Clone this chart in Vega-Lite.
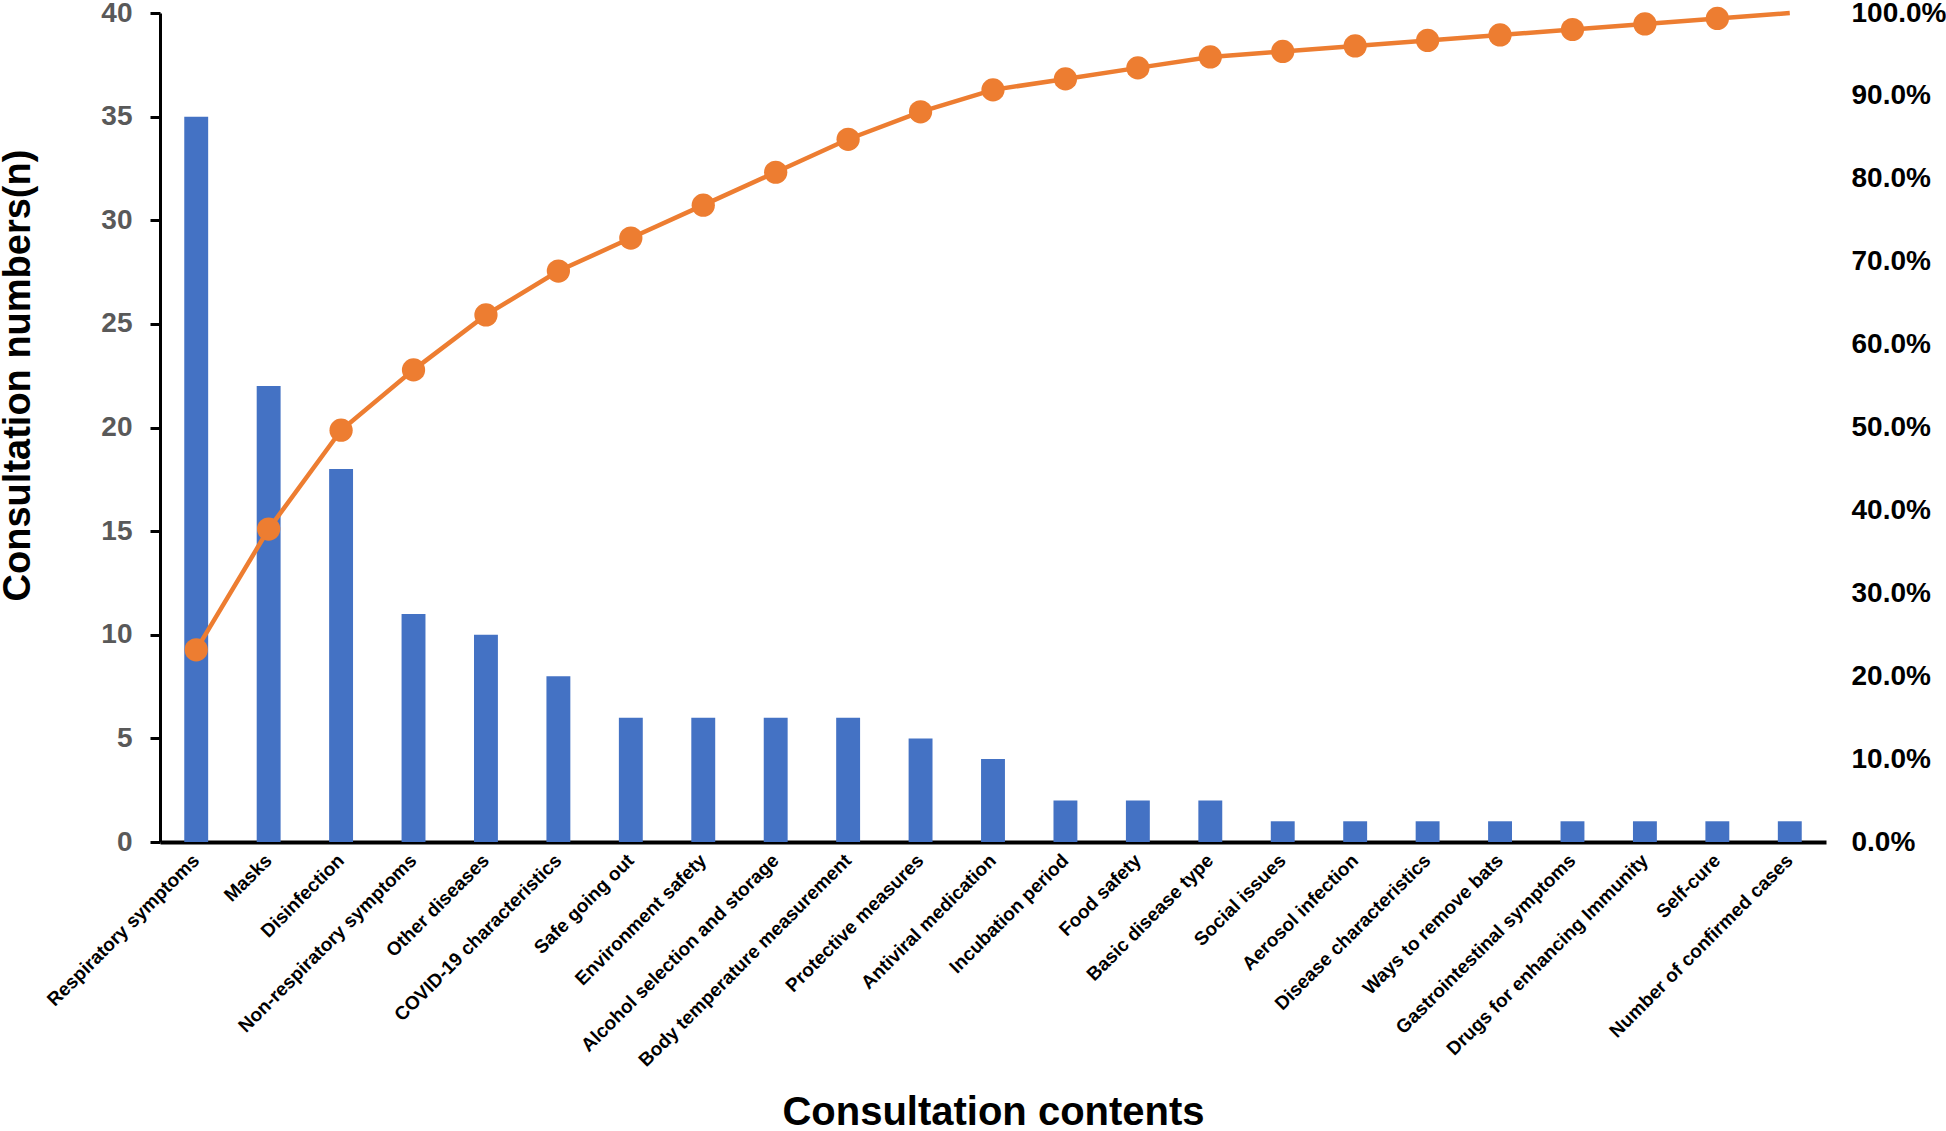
{
  "$schema": "https://vega.github.io/schema/vega-lite/v6.json",
  "width": 1666,
  "height": 829,
  "autosize": {"type": "none"},
  "padding": {"left": 160, "top": 13, "right": 120, "bottom": 289},
  "background": "white",
  "config": {"view": {"stroke": null}, "font": "Liberation Sans", "axis": {"grid": false}},
  "data": {"values": [
    {"content": "Respiratory symptoms", "count": 35, "cum": 0.2318},
    {"content": "Masks", "count": 22, "cum": 0.3775},
    {"content": "Disinfection", "count": 18, "cum": 0.4967},
    {"content": "Non-respiratory symptoms", "count": 11, "cum": 0.5695},
    {"content": "Other diseases", "count": 10, "cum": 0.6358},
    {"content": "COVID-19 characteristics", "count": 8, "cum": 0.6887},
    {"content": "Safe going out", "count": 6, "cum": 0.7285},
    {"content": "Environment safety", "count": 6, "cum": 0.7682},
    {"content": "Alcohol selection and storage", "count": 6, "cum": 0.8079},
    {"content": "Body temperature measurement", "count": 6, "cum": 0.8477},
    {"content": "Protective measures", "count": 5, "cum": 0.8808},
    {"content": "Antiviral medication", "count": 4, "cum": 0.9073},
    {"content": "Incubation period", "count": 2, "cum": 0.9205},
    {"content": "Food safety", "count": 2, "cum": 0.9338},
    {"content": "Basic disease type", "count": 2, "cum": 0.9470},
    {"content": "Social issues", "count": 1, "cum": 0.9536},
    {"content": "Aerosol infection", "count": 1, "cum": 0.9603},
    {"content": "Disease characteristics", "count": 1, "cum": 0.9669},
    {"content": "Ways to remove bats", "count": 1, "cum": 0.9735},
    {"content": "Gastrointestinal symptoms", "count": 1, "cum": 0.9801},
    {"content": "Drugs for enhancing Immunity", "count": 1, "cum": 0.9868},
    {"content": "Self-cure", "count": 1, "cum": 0.9934},
    {"content": "Number of confirmed cases", "count": 1, "cum": 1.0}
  ]},
  "layer": [
    {
      "mark": {"type": "bar", "color": "#4472C4", "width": {"band": 0.33}},
      "encoding": {
        "x": {
          "field": "content", "type": "nominal", "sort": null, "title": "Consultation contents",
          "scale": {"paddingInner": 0, "paddingOuter": 0},
          "axis": {
            "titleFontSize": 40, "titleFontWeight": "bold", "titleColor": "black",
            "titleY": 282, "titleBaseline": "alphabetic",
            "labelAngle": -45, "labelAlign": "right", "labelBaseline": "middle",
            "labelFontSize": 19, "labelFontWeight": "bold", "labelColor": "black",
            "labelPadding": 15, "labelOverlap": false, "labelLimit": 0,
            "ticks": false, "domainColor": "black", "domainWidth": 4
          }
        },
        "y": {
          "field": "count", "type": "quantitative", "title": "Consultation numbers(n)",
          "scale": {"domain": [0, 40], "nice": false},
          "axis": {
            "values": [0, 5, 10, 15, 20, 25, 30, 35, 40],
            "titleFontSize": 38, "titleFontWeight": "bold", "titleColor": "black",
            "titleAngle": -90, "titleX": -131, "titleY": 362, "titleBaseline": "alphabetic", "titleAlign": "center",
            "labelFontSize": 28, "labelFontWeight": "bold", "labelColor": "#595959", "labelPadding": 18,
            "tickColor": "black", "tickWidth": 3, "tickSize": 10,
            "domainColor": "black", "domainWidth": 3
          }
        }
      }
    },
    {
      "layer": [
        {
          "mark": {"type": "line", "color": "#ED7D31", "strokeWidth": 4.5},
          "encoding": {
            "x": {"field": "content", "type": "nominal", "sort": null, "title": "Consultation contents"},
            "y": {
              "field": "cum", "type": "quantitative", "title": null,
              "scale": {"domain": [0, 1], "nice": false},
              "axis": {
                "orient": "right", "values": [0, 0.1, 0.2, 0.3, 0.4, 0.5, 0.6, 0.7, 0.8, 0.9, 1.0],
                "format": ".1%", "labelFontSize": 28, "labelFontWeight": "bold", "labelColor": "black",
                "labelPadding": 25, "labelAlign": "left", "domain": false, "ticks": false
              }
            }
          }
        },
        {
          "transform": [{"filter": "datum.content !== 'Number of confirmed cases'"}],
          "mark": {"type": "circle", "color": "#ED7D31", "size": 540, "opacity": 1},
          "encoding": {
            "x": {"field": "content", "type": "nominal", "sort": null, "title": "Consultation contents"},
            "y": {"field": "cum", "type": "quantitative", "title": null}
          }
        }
      ]
    }
  ],
  "resolve": {"scale": {"y": "independent"}}
}
